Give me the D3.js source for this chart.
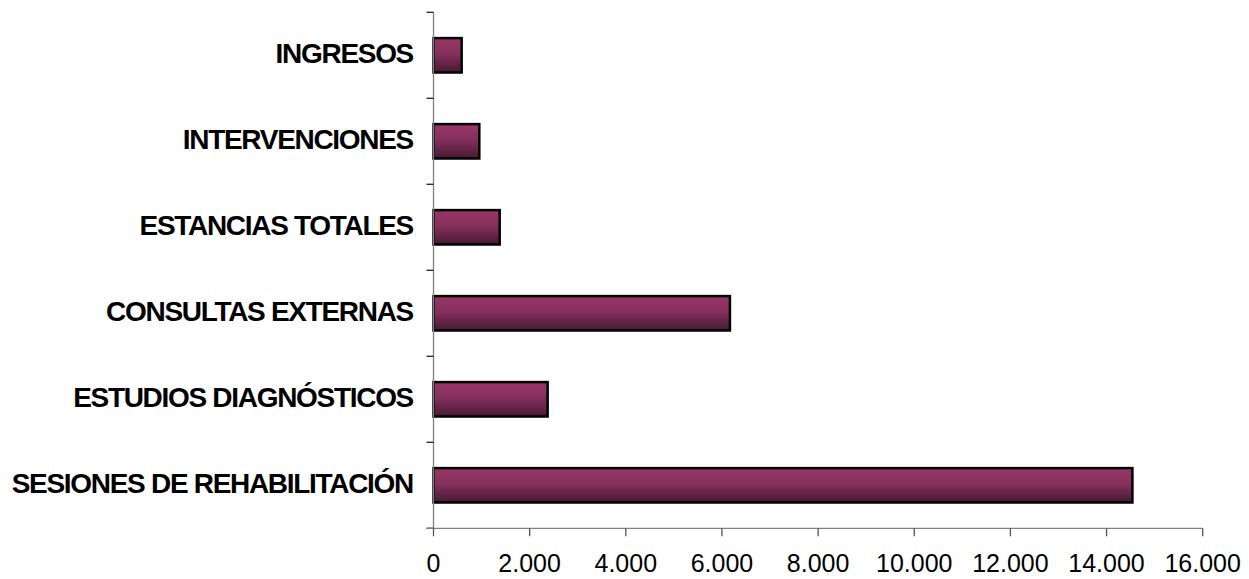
<!DOCTYPE html>
<html><head><meta charset="utf-8">
<script src="https://cdn.jsdelivr.net/npm/d3@7"></script>
<style>body{margin:0;background:#fff}svg{display:block}</style>
</head><body>
<script>
const categories = ["INGRESOS","INTERVENCIONES","ESTANCIAS TOTALES","CONSULTAS EXTERNAS","ESTUDIOS DIAGNÓSTICOS","SESIONES DE REHABILITACIÓN"];
const values = [586, 953, 1377, 6166, 2374, 14538];
const xTicks = [0,2000,4000,6000,8000,10000,12000,14000,16000];
const xTickLabels = ["0","2.000","4.000","6.000","8.000","10.000","12.000","14.000","16.000"];

(function(){
const W=1249,H=579;
const svg=d3.select("body").append("svg").attr("width",W).attr("height",H);
const pL=433.5,pR=1202.7,pT=12.3,pB=528.3;
const x=d3.scaleLinear().domain([0,16000]).range([pL,pR]);
const y=d3.scaleBand().domain(categories).range([pT,pB]).paddingInner(0.6).paddingOuter(0.3);
const yTicks=d3.scaleBand().domain(categories).range([pT,pB]);

const defs=svg.append("defs");
const g=defs.append("linearGradient").attr("id","bg").attr("x1",0).attr("y1",0).attr("x2",0).attr("y2",1);
g.append("stop").attr("offset","0%").attr("stop-color","#9b3568");
g.append("stop").attr("offset","45%").attr("stop-color","#85305c");
g.append("stop").attr("offset","100%").attr("stop-color","#461a33");

svg.append("g").selectAll("rect").data(categories).join("rect")
  .attr("x",x(0)).attr("y",d=>y(d)).attr("width",(d,i)=>x(values[i])-x(0)).attr("height",y.bandwidth())
  .attr("fill","url(#bg)").attr("stroke","#000").attr("stroke-width",2.5);

const ya=svg.append("g");
ya.append("line").attr("x1",pL).attr("x2",pL).attr("y1",pT).attr("y2",pB).attr("stroke","#808080").attr("stroke-width",1.3);
const yb=categories.map(c=>yTicks(c)).concat([pB]);
ya.selectAll("line.t").data(yb).join("line").attr("class","t")
  .attr("x1",pL-7).attr("x2",pL).attr("y1",d=>d).attr("y2",d=>d).attr("stroke","#222").attr("stroke-width",1.3);
ya.selectAll("text").data(categories).join("text")
  .attr("x",413).attr("y",d=>yTicks(d)+yTicks.bandwidth()/2-2).attr("dy","0.35em")
  .attr("text-anchor","end").attr("font-family","Liberation Sans, Arial, sans-serif")
  .attr("font-weight","bold").attr("font-size",28).attr("letter-spacing",-1.3).attr("fill","#000").text(d=>d);

const xa=svg.append("g");
xa.append("line").attr("x1",pL-7).attr("x2",pR).attr("y1",pB).attr("y2",pB).attr("stroke","#808080").attr("stroke-width",1.3);
xa.selectAll("line.t").data(xTicks).join("line").attr("class","t")
  .attr("x1",d=>x(d)).attr("x2",d=>x(d)).attr("y1",pB).attr("y2",pB+8).attr("stroke","#555").attr("stroke-width",1.3);
xa.selectAll("text").data(xTicks).join("text")
  .attr("x",d=>x(d)).attr("y",563).attr("dy","0.35em").attr("text-anchor","middle")
  .attr("font-family","Liberation Sans, Arial, sans-serif").attr("font-size",25).attr("fill","#000")
  .text((d,i)=>xTickLabels[i]);
})();
</script>
</body></html>
